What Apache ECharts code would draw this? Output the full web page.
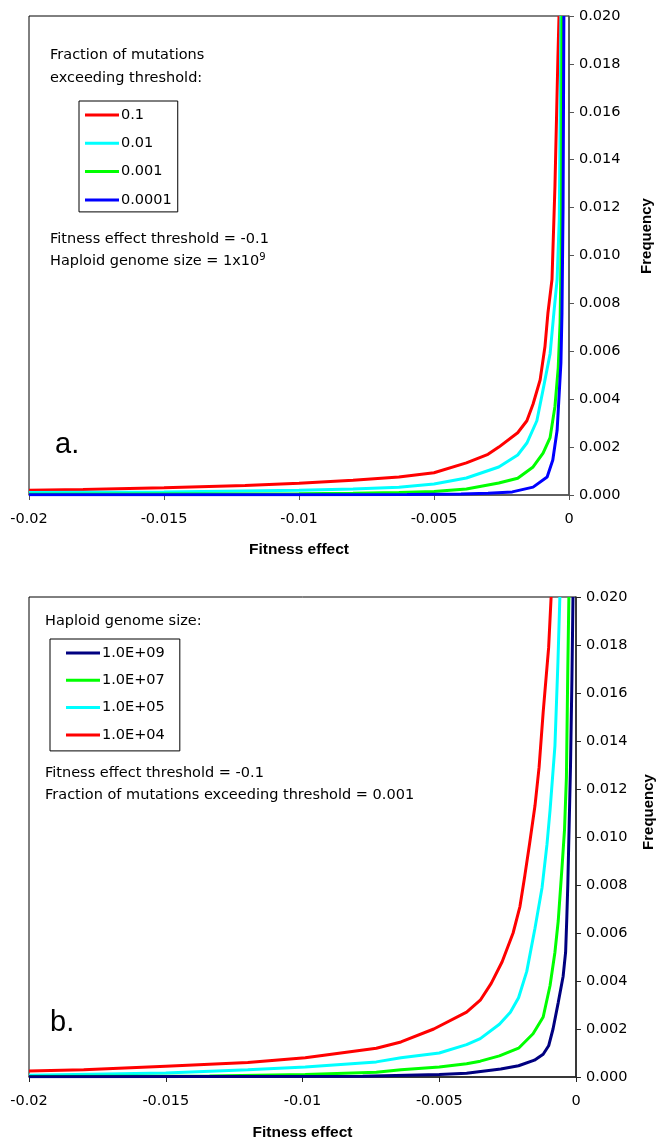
<!DOCTYPE html>
<html>
<head>
<meta charset="utf-8">
<script src="https://cdn.jsdelivr.net/npm/echarts@6/dist/echarts.min.js"></script>
<style>
  html, body { margin: 0; padding: 0; background: #fff; }
  #chart { width: 656px; height: 1142px; }
</style>
</head>
<body>
<div id="chart"></div>
<script>
// panel a: fraction of mutations exceeding threshold
const aNames = ['0.1', '0.01', '0.001', '0.0001'];
const aColors = ['#ff0000', '#00ffff', '#00ff00', '#0000ff'];
const aX1 = [-0.02, -0.018, -0.015, -0.012, -0.01, -0.008, -0.0063, -0.005, -0.0038, -0.003, -0.0026, -0.0019, -0.00156, -0.00133, -0.00107, -0.00089, -0.00078, -0.00063, -0.00052, -0.00041, -0.00037];
const aY1 = [0.0002, 0.00023, 0.0003, 0.0004, 0.00049, 0.00062, 0.00075, 0.00093, 0.00134, 0.0017, 0.002, 0.0026, 0.0031, 0.0038, 0.0048, 0.0062, 0.0076, 0.009, 0.0129, 0.0183, 0.02];
const aX2 = [-0.02, -0.015, -0.01, -0.008, -0.0063, -0.005, -0.0038, -0.0026, -0.0019, -0.00156, -0.00119, -0.00096, -0.0007, -0.00056, -0.00044, -0.00036, -0.00033, -0.0003];
const aY2 = [0.0001, 0.00013, 0.0002, 0.00025, 0.00032, 0.00046, 0.00071, 0.00117, 0.00167, 0.00217, 0.0031, 0.0044, 0.0059, 0.0076, 0.009, 0.0115, 0.0155, 0.02];
const aX3 = [-0.02, -0.015, -0.01, -0.008, -0.0063, -0.005, -0.0038, -0.0026, -0.0019, -0.00133, -0.00096, -0.0007, -0.00052, -0.0004, -0.00033, -0.00028, -0.00026];
const aY3 = [0.00003, 0.00004, 0.00005, 0.00007, 0.0001, 0.00015, 0.00025, 0.0005, 0.0007, 0.00117, 0.00175, 0.0024, 0.0037, 0.0053, 0.0072, 0.011, 0.02];
const aX4 = [-0.02, -0.01, -0.006, -0.004, -0.003, -0.0021, -0.00133, -0.00081, -0.0006, -0.00044, -0.00037, -0.0003, -0.00026, -0.00022, -0.00019];
const aY4 = [0.00001, 0.00001, 0.00002, 0.00004, 0.00007, 0.00013, 0.00033, 0.00075, 0.00146, 0.0027, 0.0041, 0.0055, 0.0076, 0.012, 0.02];

// panel b: haploid genome size
const bNames = ['1.0E+09', '1.0E+07', '1.0E+05', '1.0E+04'];
const bColors = ['#000080', '#00ff00', '#00ffff', '#ff0000'];
const bX1 = [-0.02, -0.0078, -0.005, -0.004, -0.00275, -0.0021, -0.00152, -0.0012, -0.001, -0.00084, -0.00065, -0.00047, -0.00038, -0.00034, -0.0003, -0.00026, -0.0002, -0.00015, -0.00011];
const bY1 = [0.00001, 0.00003, 0.0001, 0.00016, 0.00033, 0.00047, 0.0007, 0.00095, 0.0013, 0.002, 0.0031, 0.0042, 0.0052, 0.0065, 0.008, 0.01, 0.013, 0.0165, 0.02];
const bX2 = [-0.02, -0.0134, -0.0099, -0.0073, -0.0064, -0.005, -0.004, -0.0035, -0.0028, -0.0021, -0.00157, -0.0012, -0.00095, -0.00077, -0.00065, -0.00052, -0.00042, -0.00035, -0.0003, -0.00026];
const bY2 = [0.00002, 0.00004, 0.0001, 0.0002, 0.0003, 0.00042, 0.00055, 0.00066, 0.00088, 0.0012, 0.0018, 0.0025, 0.0038, 0.0052, 0.0065, 0.0086, 0.0103, 0.0125, 0.017, 0.02];
const bX3 = [-0.02, -0.015, -0.012, -0.0099, -0.0073, -0.0064, -0.005, -0.004, -0.0035, -0.0028, -0.0024, -0.0021, -0.0018, -0.0015, -0.00124, -0.00106, -0.00095, -0.00077, -0.00066, -0.00059];
const bY3 = [0.00007, 0.00017, 0.0003, 0.00042, 0.00063, 0.0008, 0.001, 0.00135, 0.0016, 0.0022, 0.0027, 0.0033, 0.0044, 0.0062, 0.0079, 0.0097, 0.0111, 0.0138, 0.0173, 0.02];
const bX4 = [-0.02, -0.018, -0.015, -0.012, -0.0099, -0.0073, -0.0064, -0.0052, -0.004, -0.0035, -0.0031, -0.0027, -0.0023, -0.00205, -0.00187, -0.0017, -0.0015, -0.00135, -0.0012, -0.001, -0.00091];
const bY4 = [0.00025, 0.0003, 0.00045, 0.0006, 0.0008, 0.0012, 0.00146, 0.002, 0.0027, 0.0032, 0.0039, 0.0048, 0.006, 0.0071, 0.0084, 0.0097, 0.0113, 0.0129, 0.0152, 0.0179, 0.02];

const xTicks = { min: -0.02, max: 0, interval: 0.005 };
const yTicks = { min: 0, max: 0.02, interval: 0.002 };

const FONT = '"DejaVu Sans", Verdana, sans-serif';
const BOLD = '"Liberation Sans", Arial, sans-serif';
const FS = 14.5;

const zip = (xs, ys) => xs.map((x, i) => [x, ys[i]]);

const lineSeries = (name, color, idx, xs, ys) => ({
  name,
  type: 'line',
  xAxisIndex: idx,
  yAxisIndex: idx,
  data: zip(xs, ys),
  showSymbol: false,
  symbol: 'none',
  lineStyle: { color, width: 3 },
  itemStyle: { color },
  animation: false,
});

const xAxisOf = (idx, color, gap) => ({
  type: 'value',
  gridIndex: idx,
  ...xTicks,
  name: 'Fitness effect',
  nameLocation: 'middle',
  nameGap: gap,
  nameTextStyle: { fontFamily: BOLD, fontSize: 15.5, fontWeight: 'bold', color: '#000' },
  axisLine: { show: true, onZero: false, lineStyle: { color, width: 1.5 } },
  axisTick: { show: true, length: 5, lineStyle: { color } },
  axisLabel: { margin: 17, fontFamily: FONT, fontSize: FS, color: '#000' },
  splitLine: { show: false },
});

const yAxisOf = (idx, color) => ({
  type: 'value',
  gridIndex: idx,
  position: 'right',
  ...yTicks,
  axisLine: { show: true, onZero: false, lineStyle: { color, width: 1.5 } },
  axisTick: { show: true, length: 5, lineStyle: { color } },
  axisLabel: { margin: 10, fontFamily: FONT, fontSize: FS, color: '#000', formatter: (v) => v.toFixed(3) },
  splitLine: { show: false },
});

const legendOf = (names, left, top, padding, itemGap) => ({
  data: names,
  orient: 'vertical',
  left,
  top,
  padding,
  itemGap,
  itemWidth: 34,
  itemHeight: 3,
  icon: 'rect',
  borderColor: '#000',
  borderWidth: 1,
  selectedMode: false,
  textStyle: { fontFamily: FONT, fontSize: FS, color: '#000', lineHeight: 18, padding: [0, 0, 0, -3] },
});

const txt = (left, top, text, extra) => ({
  type: 'text',
  left,
  top,
  style: { text, fontFamily: FONT, fontSize: FS, fill: '#000', ...(extra || {}) },
});

// rotated axis title, placed by hand so it sits where the original has it
const yTitle = (x, y) => ({
  type: 'text',
  x,
  y,
  rotation: Math.PI / 2,
  style: { text: 'Frequency', fontFamily: BOLD, fontSize: 15, fontWeight: 'bold', fill: '#000', align: 'center', verticalAlign: 'middle' },
});

const chart = echarts.init(document.getElementById('chart'), null, { renderer: 'canvas' });

chart.setOption({
  backgroundColor: '#fff',
  animation: false,
  grid: [
    { left: 29, top: 16, width: 540, height: 479, show: true, borderColor: '#000', borderWidth: 1, containLabel: false, outerBoundsMode: 'none' },
    { left: 29, top: 597, width: 547, height: 480, show: true, borderColor: '#000', borderWidth: 1, containLabel: false, outerBoundsMode: 'none' },
  ],
  xAxis: [xAxisOf(0, '#555', 47), xAxisOf(1, '#222', 48)],
  yAxis: [yAxisOf(0, '#555'), yAxisOf(1, '#222')],
  legend: [
    legendOf(aNames, 79, 101, [5, 6, 3, 6], 10.3),
    legendOf(bNames, 50, 639, [5, 15, 7, 16], 9.3),
  ],
  graphic: [
    txt(50, 48, 'Fraction of mutations'),
    txt(50, 71, 'exceeding threshold:'),
    txt(50, 232, 'Fitness effect threshold = -0.1'),
    {
      type: 'text',
      left: 50,
      top: 252,
      style: {
        text: 'Haploid genome size = 1x10{sup|9}',
        fontFamily: FONT,
        fontSize: FS,
        fill: '#000',
        rich: { sup: { fontFamily: FONT, fontSize: 10, verticalAlign: 'top', padding: [0, 0, 8, 0] } },
      },
    },
    txt(55, 430, 'a.', { fontFamily: BOLD, fontSize: 29 }),
    txt(45, 614, 'Haploid genome size:'),
    txt(45, 766, 'Fitness effect threshold = -0.1'),
    txt(45, 788, 'Fraction of mutations exceeding threshold = 0.001'),
    txt(50, 1008, 'b.', { fontFamily: BOLD, fontSize: 29 }),
    yTitle(647, 236),
    yTitle(649, 812),
  ],
  series: [
    lineSeries(aNames[0], aColors[0], 0, aX1, aY1),
    lineSeries(aNames[1], aColors[1], 0, aX2, aY2),
    lineSeries(aNames[2], aColors[2], 0, aX3, aY3),
    lineSeries(aNames[3], aColors[3], 0, aX4, aY4),
    lineSeries(bNames[3], bColors[3], 1, bX4, bY4),
    lineSeries(bNames[2], bColors[2], 1, bX3, bY3),
    lineSeries(bNames[1], bColors[1], 1, bX2, bY2),
    lineSeries(bNames[0], bColors[0], 1, bX1, bY1),
  ],
});

window.addEventListener('resize', () => chart.resize());
</script>
</body>
</html>
